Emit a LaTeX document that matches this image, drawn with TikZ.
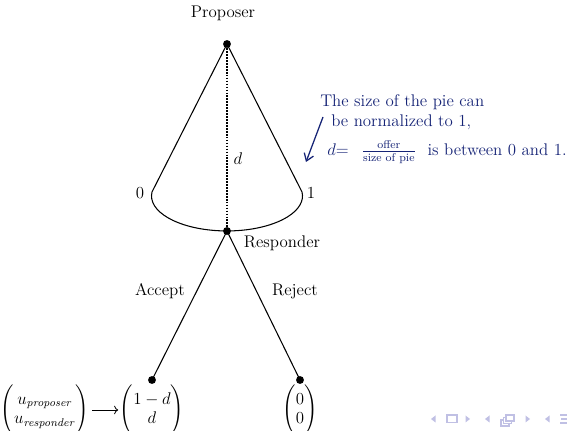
\documentclass[tikz,border=0pt]{standalone}
\usepackage{amsmath,amssymb}
\usepackage{tikz}
\usetikzlibrary{arrows.meta,positioning}
\definecolor{notenavy}{RGB}{22,36,118}
\definecolor{navgray}{RGB}{192,192,228}

\begin{document}
\begin{tikzpicture}[
  x=0.025cm,
  y=-0.025cm,
  >=To,
  decision/.style={circle, fill=black, inner sep=0pt, minimum size=5.6pt},
  branch/.style={line width=0.75pt},
  share/.style={line width=1.6pt, dash pattern=on 1.2pt off 0.9pt},
  lbl/.style={font=\large, inner sep=1pt},
  note/.style={font=\large, text=notenavy, inner sep=0pt, anchor=west},
  payoff/.style={font=\large, inner sep=0pt},
  notearrow/.style={-{Straight Barb[length=5pt,width=7pt]}, draw=notenavy, line width=0.9pt},
  navsym/.style={fill=navgray, draw=none}
]
  \useasboundingbox (0,0) rectangle (567,431);

  \node[decision] (proposer) at (227,44) {};
  \node[decision] (responder) at (227,231) {};
  \node[decision] (leafa) at (152,380) {};
  \node[decision] (leafr) at (300,380) {};

  \coordinate (cl) at (152,192);
  \coordinate (cr) at (302,192);

  \node[lbl] (plabel) at (223,13) {Proposer};
  \node[lbl] (rlabel) at (282,243) {Responder};
  \node[lbl] (zero) at (140,193) {0};
  \node[lbl] (one) at (311,193) {1};
  \node[lbl] (dlabel) at (238,159) {$d$};
  \node[lbl] (accept) at (160,291) {Accept};
  \node[lbl] (reject) at (295,291) {Reject};

  \draw[branch] (proposer.center) -- (cl)
    arc[start angle=186.5, end angle=-6.5, x radius=75.5, y radius=35]
    -- (proposer.center);
  \draw[share] (proposer) -- (responder);
  \draw[branch] (responder.center) -- (leafa.center);
  \draw[branch] (responder.center) -- (leafr.center);

  \node[note] (note1) at (320,102) {The size of the pie can};
  \node[note] (note2) at (331,122) {be normalized to 1,};
  \node[note] (note3) at (327,152)
    {$d{=}$\hspace{9pt}$\frac{\text{offer}}{\text{size of pie}}$\hspace{8pt}is between 0 and 1.};
  \coordinate (notetail) at (323,117);
  \coordinate (notehead) at (306,162);
  \draw[notearrow] (notetail) -- (notehead);

  \node[payoff] (util) at (45,410)
    {$\Biggl(\begin{matrix} u_{\mathit{proposer}}\\ u_{\mathit{responder}} \end{matrix}\Biggr)$};
  \node[payoff] (payacc) at (152,410)
    {$\Biggl(\begin{matrix} 1-d\\ d \end{matrix}\Biggr)$};
  \node[payoff] (payrej) at (300,410)
    {$\Biggl(\begin{matrix} 0\\ 0 \end{matrix}\Biggr)$};
  \draw[->, line width=0.6pt] ([xshift=2pt]util.east) -- ([xshift=-1pt]payacc.west);

  \fill[navsym] (431,419) -- (435.5,415.5) -- (435.5,422.5) -- cycle;
  \draw[navgray, line width=0.8pt] (447,415) rectangle (457,422.5);
  \fill[navsym] (470,419) -- (465.5,415.5) -- (465.5,422.5) -- cycle;
  \fill[navsym] (485,419) -- (489.5,415.5) -- (489.5,422.5) -- cycle;
  \foreach \k in {0,1,2}
    \draw[navgray, fill=white, line width=0.8pt]
      (501+2.5*\k,420-2.5*\k) rectangle (509+2.5*\k,426-2.5*\k);
  \fill[navsym] (530,419) -- (525.5,415.5) -- (525.5,422.5) -- cycle;
  \fill[navsym] (545,419) -- (549.5,415.5) -- (549.5,422.5) -- cycle;
  \draw[navgray, line width=0.8pt] (560,415) -- (567,415) (561,419) -- (567,419) (560,423) -- (567,423);
\end{tikzpicture}
\end{document}
